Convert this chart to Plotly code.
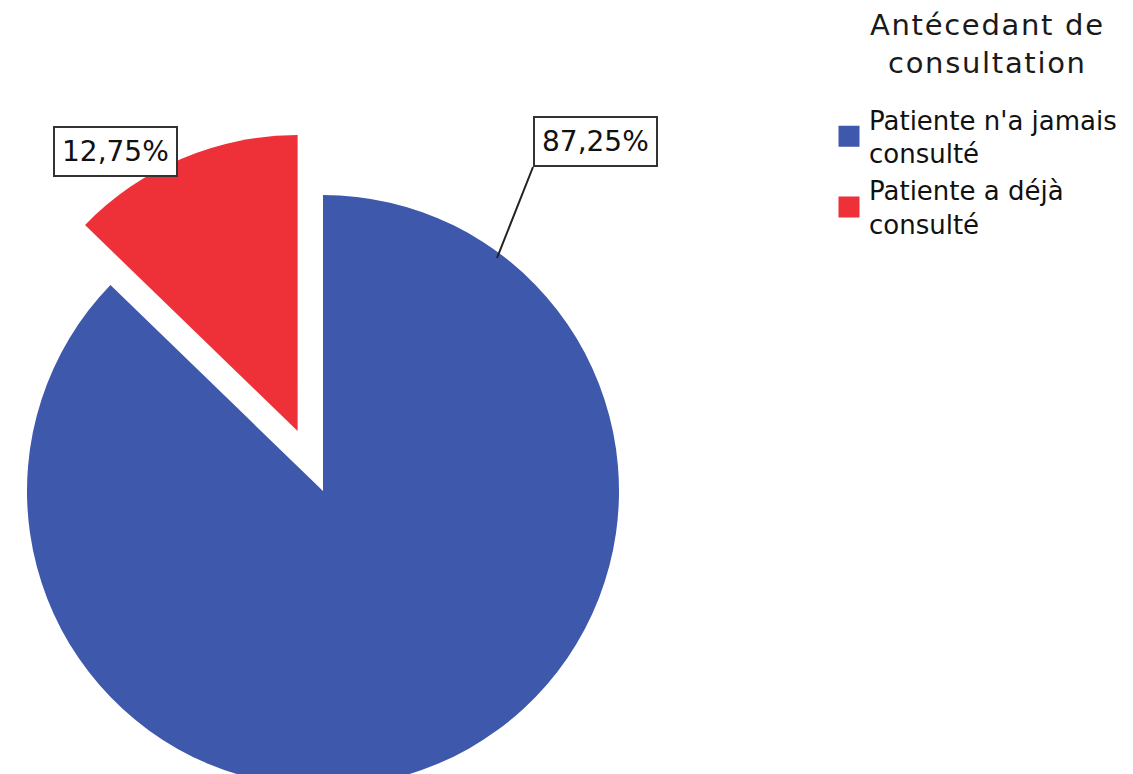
import math
import plotly.graph_objects as go

# Data
labels = ["Patiente n'a jamais consulté", "Patiente a déjà consulté"]
legend_text = ["Patiente n'a jamais<br>consulté", "Patiente a déjà<br>consulté"]
percentages = [87.25, 12.75]
colors = ["#3E58AC", "#EE3138"]
legend_title = ["Antécedant de", "consultation"]

W, H = 1133, 800          # canvas (bottom of the pie runs past the window)
CX, CY, R = 323, 491, 296  # pie centre and radius in pixels
PULL = 0.22                # exploded slice offset, fraction of radius


def px_domain(cx, cy, r):
    return dict(x=[(cx - r) / W, (cx + r) / W],
                y=[1 - (cy + r) / H, 1 - (cy - r) / H])


def paper(px, py):
    return px / W, 1 - py / H


def pct_text(v):
    return f"{v:.2f}".replace(".", ",") + "%"


def spaced(line, ls):
    return f'<span style="letter-spacing:{ls}px">{line}</span>'


# bisector of the exploded (second) slice, clockwise from 12 o'clock
start = sum(percentages[:1]) / sum(percentages) * 360
mid = math.radians(start + percentages[1] / sum(percentages) * 360 / 2)
off = PULL * R
ocx = CX + off * math.sin(mid)
ocy = CY - off * math.cos(mid)

transparent = "rgba(0,0,0,0)"

fig = go.Figure()

# main pie: only the first slice is painted
fig.add_trace(go.Pie(
    labels=labels, values=percentages, sort=False, direction="clockwise",
    marker=dict(colors=[colors[0], transparent], line=dict(width=0)),
    textinfo="none", hoverinfo="skip", showlegend=False,
    domain=px_domain(CX, CY, R),
))
# exploded slice: same pie, shifted along the slice bisector
fig.add_trace(go.Pie(
    labels=labels, values=percentages, sort=False, direction="clockwise",
    marker=dict(colors=[transparent, colors[1]], line=dict(width=0)),
    textinfo="none", hoverinfo="skip", showlegend=False,
    domain=px_domain(ocx, ocy, R),
))

# legend entries with large square swatches
for name, col in zip(legend_text, colors):
    fig.add_trace(go.Scatter(
        x=[None], y=[None], mode="markers", name=name,
        marker=dict(symbol="square", size=16, color=col,
                    line=dict(color=col, width=5)),
        hoverinfo="skip",
    ))

label_font = dict(family="DejaVu Sans", size=28, color="#111")

# value labels
x0, y0 = paper(497, 258)
fig.add_annotation(
    x=x0, y=y0, xref="paper", yref="paper",
    text=pct_text(percentages[0]), showarrow=True,
    ax=36, ay=-91, xanchor="left", yanchor="bottom",
    arrowhead=0, arrowwidth=2, arrowcolor="#222",
    font=label_font,
    bgcolor="white", bordercolor="#333", borderwidth=2, borderpad=7,
)
x1, y1 = paper(115, 152)
fig.add_annotation(
    x=x1, y=y1, xref="paper", yref="paper",
    text=pct_text(percentages[1]), showarrow=False,
    xanchor="center", yanchor="middle",
    font=label_font,
    bgcolor="white", bordercolor="#333", borderwidth=2, borderpad=7,
)

# legend heading, centred over the entries
tx, ty = paper(987, 6)
fig.add_annotation(
    x=tx, y=ty, xref="paper", yref="paper",
    text="<br>".join(spaced(t, 1.7) for t in legend_title),
    showarrow=False, xanchor="center", yanchor="top", align="center",
    font=dict(family="DejaVu Sans", size=29, color="#1a1a1a"),
)

lx, ly = paper(829, 96)
fig.update_layout(
    width=W, height=H,
    margin=dict(l=0, r=0, t=0, b=0),
    paper_bgcolor="white", plot_bgcolor="white",
    xaxis=dict(visible=False), yaxis=dict(visible=False),
    showlegend=True,
    legend=dict(
        x=lx, y=ly, xanchor="left", yanchor="top",
        font=dict(family="DejaVu Sans", size=26, color="#111"),
        tracegroupgap=4, itemsizing="trace",
        bgcolor="rgba(0,0,0,0)",
    ),
)

fig.write_html(
    "out.html",
    config={"displayModeBar": False},
    post_script="document.documentElement.style.overflow='hidden';"
                "document.body.style.overflow='hidden';",
)
